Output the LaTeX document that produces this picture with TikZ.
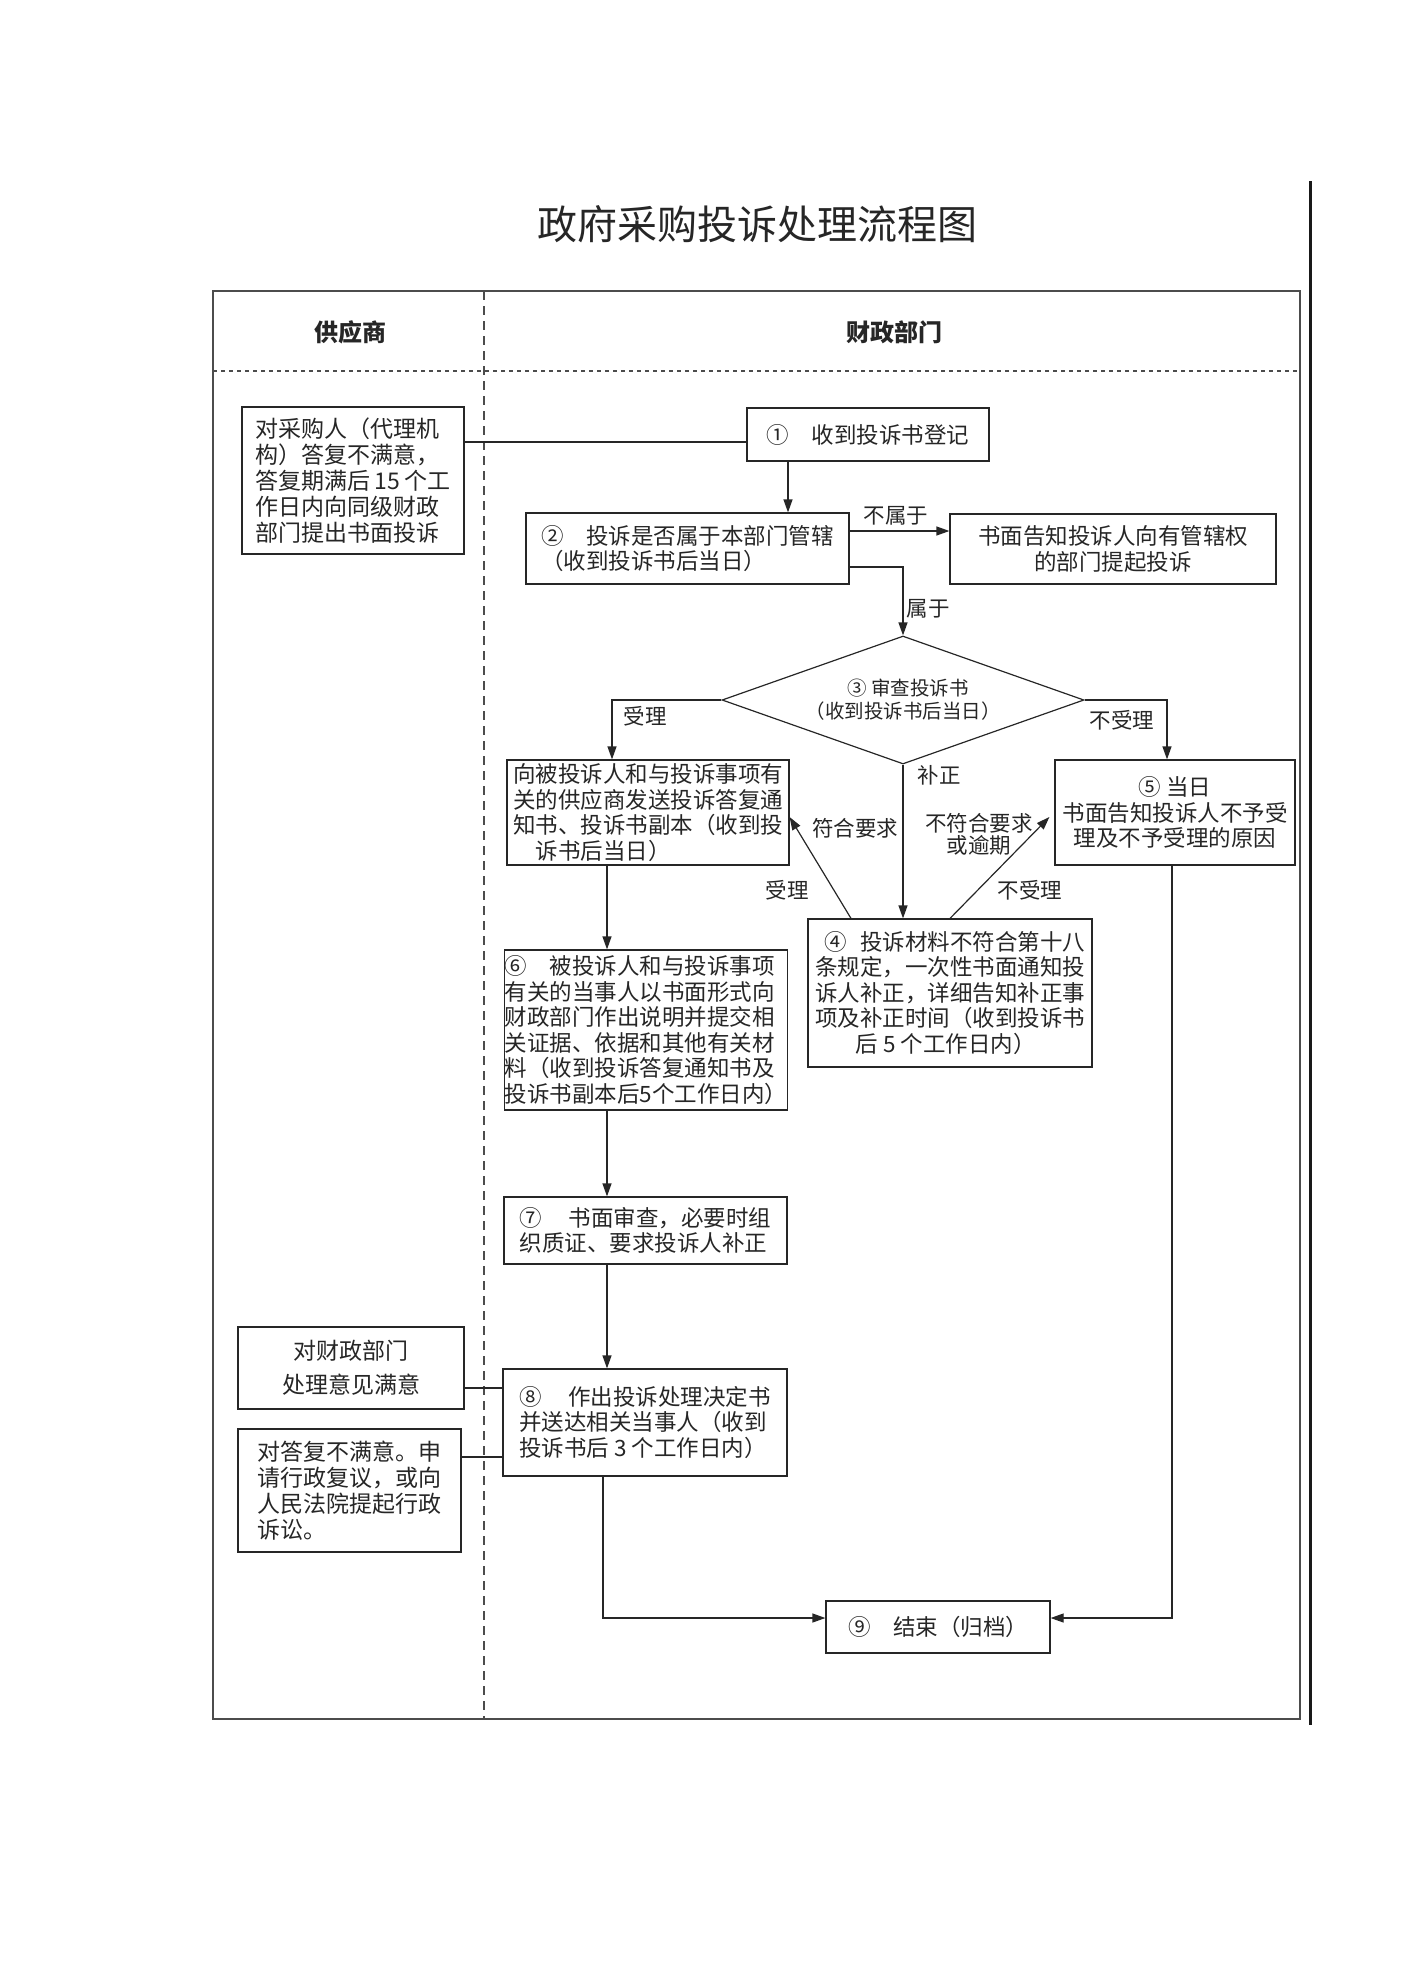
\documentclass[tikz,border=0pt]{standalone}
\usepackage{fontspec}
\setmainfont{Noto Sans CJK SC}
\usetikzlibrary{arrows.meta,shapes.geometric,calc}
\begin{document}
\begin{tikzpicture}[x=1pt,y=-1pt,
  box/.style={draw=black!85,line width=1.2pt,inner sep=0pt,text=black!85,font=\fontsize{22.5}{25.5}\selectfont},
  bigbox/.style={box,font=\fontsize{23}{26}\selectfont},
  arr/.style={draw=black!85,line width=1.2pt,-{Triangle[length=13pt,width=9pt]}},
  ln/.style={draw=black!85,line width=1.2pt},
  lab/.style={font=\fontsize{21.5}{23}\selectfont,text=black!85,inner sep=0pt,align=center}]
\useasboundingbox (0,0) rectangle (1406,1987);
% title and frame
\node[font=\fontsize{40}{44}\selectfont,text=black!85] (title) at (757,224) {政府采购投诉处理流程图};
\draw[line width=1.5pt,black!70] (213,291) rectangle (1300,1719);
\draw[line width=3pt,black!90] (1310,181) -- (1310,1725);
\draw[line width=1.2pt,black!70,dash pattern=on 4pt off 4pt] (213,371) -- (1300,371);
\draw[line width=1.2pt,black!70,dash pattern=on 9pt off 6pt] (484,291) -- (484,1719);
\node[font=\fontsize{24}{26}\selectfont\bfseries,text=black!85] (h1) at (350,332) {供应商};
\node[font=\fontsize{24}{26}\selectfont\bfseries,text=black!85] (h2) at (894,332) {财政部门};
% boxes
\node[bigbox,minimum width=222pt,minimum height=147pt,align=left] (A) at (353,480.5)
  {对采购人（代理机\\构）答复不满意，\\答复期满后\,15\,个工\\作日内向同级财政\\部门提出书面投诉};
\node[box,minimum width=242pt,minimum height=53pt] (b1) at (868,434.5) {①\hspace{1em}收到投诉书登记};
\node[box,minimum width=323pt,minimum height=71pt,align=left] (b2) at (687.5,548.5)
  {②\hspace{1em}投诉是否属于本部门管辖\\（收到投诉书后当日）\hspace{4em}};
\node[box,minimum width=326pt,minimum height=70pt,align=center] (B) at (1113,549)
  {书面告知投诉人向有管辖权\\的部门提起投诉};
\node[box,shape=diamond,aspect=2.83,minimum width=362pt,minimum height=128pt,align=center,font=\fontsize{19.5}{23}\selectfont] (d) at (903,700)
  {\hspace{0.5em}③ 审查投诉书\\（收到投诉书后当日）};
\node[box,minimum width=282pt,minimum height=105pt,align=left] (C) at (648,812.5)
  {向被投诉人和与投诉事项有\\关的供应商发送投诉答复通\\知书、投诉书副本（收到投\\\hspace{1em}诉书后当日）};
\node[box,minimum width=240pt,minimum height=105pt,align=center] (b5) at (1175,812.5)
  {⑤ 当日\\书面告知投诉人不予受\\理及不予受理的原因};
\node[box,minimum width=284pt,minimum height=148pt,align=left] (b4) at (950,993)
  {\hspace{0.4em}④\hspace{0.6em}投诉材料不符合第十八\\条规定，一次性书面通知投\\诉人补正，详细告知补正事\\项及补正时间（收到投诉书\\\hspace{1.8em}后 5 个工作日内）};
\node[box,minimum width=282pt,minimum height=160pt,align=left] (b6) at (646,1030)
  {⑥\hspace{1em}被投诉人和与投诉事项\\有关的当事人以书面形式向\\财政部门作出说明并提交相\\关证据、依据和其他有关材\\料（收到投诉答复通知书及\\投诉书副本后5个工作日内）};
\node[box,minimum width=283pt,minimum height=67pt,align=left] (b7) at (645.5,1230.5)
  {⑦\hspace{1.2em}书面审查，必要时组\\织质证、要求投诉人补正};
\node[box,minimum width=284pt,minimum height=107pt,align=left] (b8) at (645,1422.5)
  {⑧\hspace{1.2em}作出投诉处理决定书\\并送达相关当事人（收到\\投诉书后 3 个工作日内）};
\node[bigbox,minimum width=226pt,minimum height=82pt,align=center] (D) at (351,1368)
  {对财政部门\\[8pt]处理意见满意};
\node[bigbox,minimum width=223pt,minimum height=123pt,align=left] (E) at (349.5,1490.5)
  {对答复不满意。申\\请行政复议，或向\\人民法院提起行政\\诉讼。\hspace{5em}};
\node[box,minimum width=224pt,minimum height=52pt] (b9) at (938,1627) {⑨\hspace{1em}结束（归档）};
% connectors
\draw[ln] ([yshift=38.5pt]A.east) -- ([yshift=38.5pt]A.east -| b1.west);
\draw[arr] ([xshift=-80pt]b1.south) -- ([xshift=-80pt]b1.south |- b2.north);
\draw[arr] ([yshift=17.5pt]b2.east) -- ([yshift=17.5pt]b2.east -| B.west);
\node[lab] (l1) at (896,516) {不属于};
\draw[arr] ([yshift=-18.5pt]b2.east) -| (d.north);
\node[lab] (l2) at (928,609) {属于};
\draw[arr] (d.west) -| ([xshift=-36pt]C.north);
\node[lab] (l3) at (645,716) {受理};
\draw[arr] (d.east) -| ([xshift=-8pt]b5.north);
\node[lab] (l4) at (1122,720) {不受理};
\draw[arr] (d.south) -- (d.south |- b4.north);
\node[lab] (l5) at (939,775) {补正};
\draw[arr] ([xshift=-99pt]b4.north) -- ([yshift=-4.5pt]C.east);
\node[lab] (l6) at (855,828) {符合要求};
\node[lab] (l7) at (787,890) {受理};
\draw[arr] (b4.north) -- ([xshift=-5pt,yshift=-4.5pt]b5.west);
\node[lab,font=\fontsize{21.5}{22}\selectfont] (l8) at (979,834) {不符合要求\\或逾期};
\node[lab] (l9) at (1030,890) {不受理};
\draw[arr] ([xshift=-41pt]C.south) -- ([xshift=-41pt]C.south |- b6.north);
\draw[arr] ([xshift=-39pt]b6.south) -- ([xshift=-39pt]b6.south |- b7.north);
\draw[arr] ([xshift=-38.5pt]b7.south) -- ([xshift=-38.5pt]b7.south |- b8.north);
\draw[ln] ([yshift=-20pt]D.east) -- ([yshift=-20pt]D.east -| b8.west);
\draw[ln] ([yshift=33.5pt]E.east) -- ([yshift=33.5pt]E.east -| b8.west);
\draw[arr] ([xshift=-42pt]b8.south) |- ([yshift=9pt]b9.west);
\draw[arr] ([xshift=-3pt]b5.south) |- ([yshift=9pt]b9.east);
\end{tikzpicture}
\end{document}
